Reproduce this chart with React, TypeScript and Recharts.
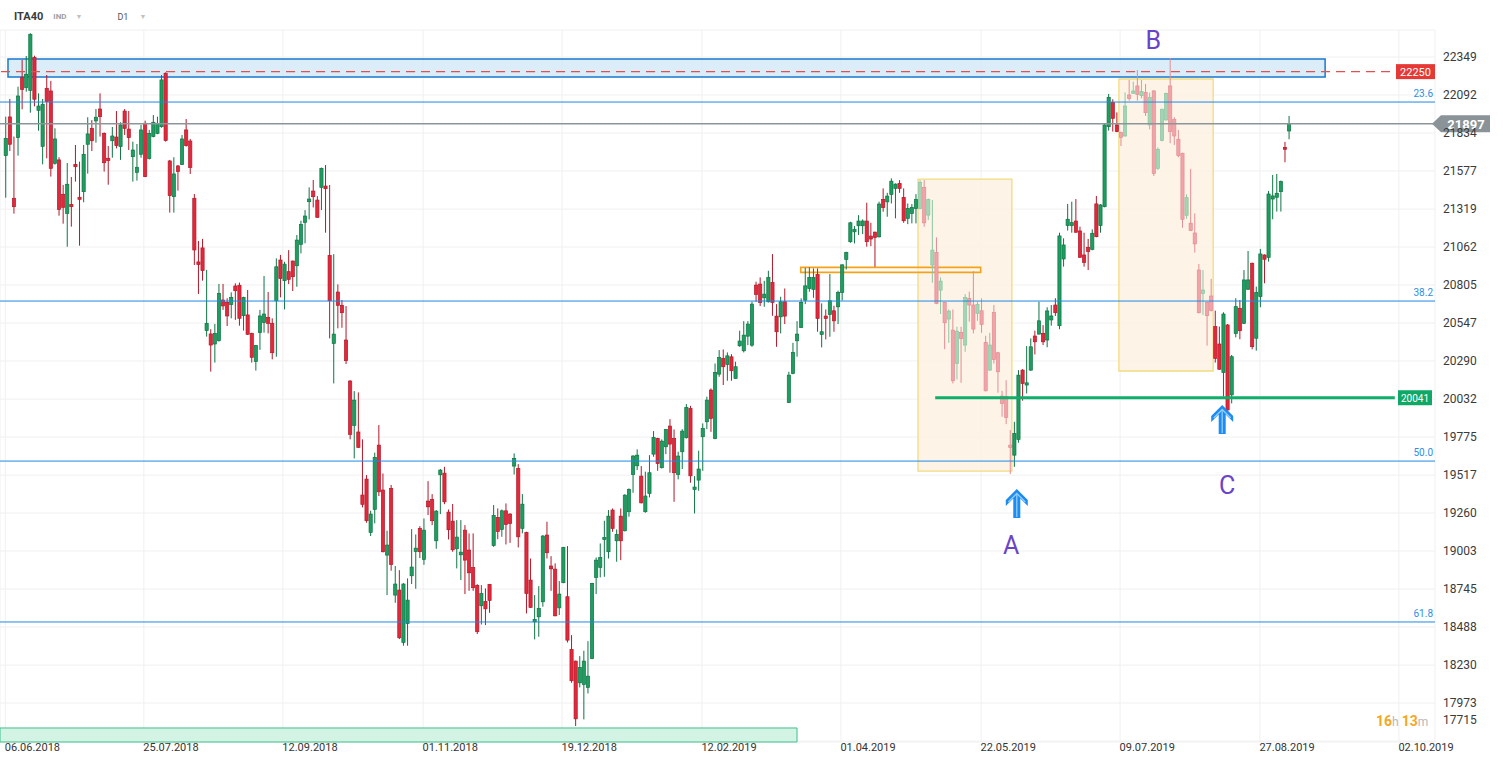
import React from "react";
import {
  ComposedChart,
  Bar,
  XAxis,
  YAxis,
  CartesianGrid,
  ReferenceLine,
  ReferenceArea,
  ReferenceDot,
} from "recharts";

// ITA40 daily candles, 06.06.2018 -> 27.08.2019
const opens = [
  21681, 21943, 21392, 21803, 22209, 22142, 22123, 22347, 21988, 21744,
  22137, 22119, 21629, 21652, 21419, 21290, 21351, 21622, 21399, 21437,
  21758, 21866, 21916, 21997, 21832, 21663, 21782, 21807, 21742, 21983,
  21861, 21674, 21568, 21690, 21900, 21661, 21810, 21832, 21877, 22239,
  21645, 21403, 21611, 21620, 21855, 21780, 21392, 20961, 21056, 20496,
  20473, 20405, 20428, 20703, 20688, 20672, 20798, 20803, 20597, 20602,
  20477, 20286, 20482, 20550, 20585, 20545, 20698, 20974, 20834, 20895,
  20967, 20935, 21080, 21229, 21369, 21441, 21380, 21466, 21475, 21005,
  20409, 20757, 20667, 20432, 20154, 19854, 19809, 19382, 19490, 19129,
  19285, 19720, 19416, 18975, 19427, 18704, 18738, 18383, 18512, 18835,
  19000, 19156, 18946, 19341, 19352, 19072, 19519, 19530, 19266, 19205,
  19018, 18977, 19144, 19009, 18891, 18770, 18632, 18661, 18776, 19040,
  19230, 19149, 19275, 19253, 19578, 19562, 19156, 19129, 18806, 18523,
  18557, 18659, 19111, 18901, 18880, 18618, 18788, 18693, 18336, 18257,
  18110, 18099, 18079, 18275, 18824, 18891, 19081, 18998, 19280, 19072,
  19239, 19140, 19269, 19521, 19580, 19510, 19269, 19393, 19659, 19765,
  19567, 19709, 19849, 19765, 19521, 19675, 19770, 19968, 19420, 19483,
  19777, 19878, 20093, 19765, 20201, 20307, 20266, 20318, 20172, 20393,
  20359, 20458, 20397, 20804, 20811, 20718, 20691, 20822, 20594, 20589,
  20691, 20009, 20206, 20427, 20517, 20702, 20781, 20775, 20876, 20470,
  20594, 20605, 20630, 20657, 20754, 20978, 21098, 21165, 21206, 21206,
  21238, 21136, 21163, 21131, 21384, 21368, 21418, 21459, 21493, 21398,
  21256, 21289, 21323, 21323, 21466, 21278, 20940, 21025, 20770, 20687,
  20574, 20499, 20273, 20483, 20398, 20714, 20669, 20612, 20630, 20416,
  20228, 20619, 20346, 20052, 20048, 19720, 19652, 19759, 20228, 20127,
  20228, 20459, 20472, 20477, 20432, 20568, 20669, 20529, 20981, 21207,
  21207, 21238, 21171, 21008, 21060, 21046, 21354, 21207, 21335, 21877,
  22040, 21889, 21837, 21814, 22092, 22103, 22153, 22087, 22110, 21889,
  22119, 21595, 21783, 21923, 22153, 21927, 21792, 21697, 21277, 21223,
  21157, 20906, 20748, 20687, 20730, 20523, 20405, 20211, 20534, 20060,
  20477, 20647, 20545, 20776, 20952, 20444, 20726, 21008, 20992, 21387,
  21399, 21437, 21737, 21848,
];

const highs = [
  21945, 22065, 21810, 22148, 22329, 22356, 22510, 22358, 22103, 22065,
  22227, 22187, 21866, 21670, 21482, 21631, 21536, 21753, 21640, 21753,
  21941, 21922, 21997, 22103, 21838, 21746, 21875, 21983, 21907, 21997,
  21983, 21776, 21760, 21889, 21918, 21855, 21956, 21945, 22227, 22245,
  21652, 21670, 21618, 21821, 21929, 21794, 21421, 21103, 21117, 20907,
  20505, 20541, 20812, 20812, 20715, 20755, 20816, 20821, 20725, 20771,
  20482, 20398, 20636, 20866, 20757, 20579, 20985, 21008, 20962, 21041,
  20970, 21143, 21240, 21312, 21466, 21516, 21407, 21600, 21617, 21482,
  21014, 20809, 20703, 20662, 20160, 20086, 20077, 19759, 19517, 19276,
  19669, 19856, 19528, 19140, 19450, 18901, 18873, 18785, 18817, 19151,
  19115, 19171, 19223, 19476, 19388, 19280, 19558, 19573, 19284, 19321,
  19212, 19212, 19178, 19122, 19122, 18778, 18772, 18749, 18780, 19314,
  19291, 19284, 19325, 19258, 19664, 19591, 19388, 19133, 18952, 18704,
  18765, 19111, 19201, 18968, 18919, 18799, 19031, 19036, 18433, 18260,
  18291, 18327, 18392, 18787, 18959, 19054, 19208, 19280, 19291, 19149,
  19291, 19388, 19427, 19652, 19691, 19578, 19540, 19652, 19815, 19770,
  19759, 19829, 19896, 19826, 19675, 19828, 19998, 19986, 19510, 19682,
  19867, 20048, 20104, 20273, 20364, 20368, 20348, 20336, 20285, 20495,
  20560, 20560, 20691, 20827, 20856, 20833, 20901, 21014, 20675, 20725,
  20781, 20217, 20413, 20560, 20714, 20921, 20924, 20917, 20917, 20680,
  20639, 20879, 20664, 20766, 20945, 21030, 21233, 21204, 21278, 21249,
  21362, 21226, 21165, 21369, 21459, 21429, 21527, 21493, 21515, 21459,
  21357, 21353, 21420, 21515, 21515, 21390, 21380, 21127, 20856, 20691,
  20639, 20639, 20522, 20522, 20743, 20759, 20899, 20691, 20714, 20461,
  20481, 20669, 20352, 20088, 20160, 19822, 19878, 20228, 20235, 20391,
  20443, 20495, 20691, 20533, 20654, 20669, 20715, 21159, 21121, 21354,
  21369, 21387, 21200, 21159, 21117, 21182, 21408, 21352, 21895, 22099,
  22063, 21974, 21844, 22110, 22194, 22182, 22261, 22194, 22166, 22108,
  22125, 21737, 22000, 22108, 22340, 21941, 21855, 21700, 21419, 21591,
  21290, 20947, 20906, 20692, 20846, 20631, 20523, 20620, 20540, 20331,
  20715, 20703, 20906, 21035, 20956, 20794, 21049, 21012, 21442, 21550,
  21557, 21512, 21774, 21950,
];

const lows = [
  21396, 21712, 21288, 21681, 21995, 22114, 21972, 22015, 21850, 21622,
  21663, 21539, 21620, 21274, 21220, 21064, 21200, 21505, 21071, 21365,
  21559, 21712, 21769, 21810, 21573, 21484, 21667, 21730, 21652, 21821,
  21719, 21505, 21512, 21667, 21535, 21655, 21805, 21826, 21870, 21776,
  21295, 21295, 21444, 21618, 21742, 21557, 20940, 20744, 20834, 20455,
  20218, 20279, 20421, 20636, 20527, 20579, 20568, 20529, 20496, 20466,
  20279, 20225, 20365, 20482, 20477, 20301, 20319, 20721, 20639, 20811,
  20764, 20793, 21019, 21087, 21249, 21330, 21260, 21312, 21159, 20443,
  20138, 20511, 20515, 20269, 19759, 19630, 19700, 19298, 19194, 19104,
  19190, 19375, 18993, 18704, 18869, 18652, 18406, 18361, 18361, 18779,
  18747, 18955, 18909, 19246, 19178, 19018, 19253, 19320, 19081, 18998,
  18885, 18806, 18711, 18733, 18733, 18440, 18505, 18501, 18584, 19031,
  19083, 19099, 19047, 19058, 19521, 19027, 19122, 18580, 18617, 18404,
  18422, 18625, 18952, 18733, 18560, 18569, 18785, 18383, 18110, 17817,
  18079, 17862, 18038, 18270, 18711, 18824, 18828, 18952, 19133, 18930,
  18941, 19135, 19235, 19397, 19551, 19325, 19262, 19366, 19641, 19546,
  19562, 19659, 19533, 19336, 19488, 19558, 19765, 19465, 19257, 19411,
  19546, 19828, 19810, 19760, 20183, 20127, 20156, 20156, 20170, 20386,
  20348, 20397, 20386, 20691, 20662, 20657, 20686, 20596, 20386, 20477,
  20540, 20005, 20200, 20319, 20514, 20675, 20759, 20718, 20488, 20382,
  20436, 20454, 20488, 20540, 20700, 20910, 21090, 21086, 21143, 21149,
  21064, 21068, 20928, 21127, 21301, 21267, 21357, 21256, 21429, 21226,
  21217, 21222, 21222, 21317, 21199, 21244, 20820, 20675, 20608, 20370,
  20413, 20138, 20165, 20142, 20352, 20556, 20477, 20562, 20481, 20084,
  20224, 20273, 20075, 19912, 19862, 19524, 19573, 19736, 20021, 20070,
  20224, 20334, 20470, 20398, 20383, 20529, 20595, 20505, 20929, 21173,
  21159, 21159, 20990, 20929, 20906, 21040, 21128, 21159, 21331, 21850,
  21844, 21840, 21746, 21810, 22054, 22099, 22054, 22069, 21950, 21859,
  21543, 21584, 21778, 21918, 21765, 21753, 21670, 21193, 21254, 21170,
  21024, 20612, 20602, 20394, 20625, 20279, 20230, 20048, 19954, 20003,
  20450, 20437, 20541, 20771, 20369, 20360, 20654, 20816, 20963, 21250,
  21302, 21302, 21636, 21792,
];

const closes = [
  21798, 21758, 21335, 22085, 22130, 22232, 22503, 22063, 22017, 22029,
  22047, 21595, 21794, 21317, 21331, 21487, 21335, 21606, 21385, 21690,
  21828, 21782, 21941, 21945, 21633, 21647, 21814, 21749, 21889, 21866,
  21803, 21719, 21602, 21855, 21539, 21832, 21907, 21900, 22194, 21783,
  21410, 21557, 21573, 21794, 21749, 21600, 21042, 20943, 20902, 20545,
  20398, 20477, 20748, 20663, 20595, 20721, 20766, 20579, 20721, 20471,
  20315, 20394, 20595, 20608, 20545, 20346, 20928, 20849, 20946, 20843,
  20861, 21109, 21215, 21272, 21387, 21403, 21263, 21595, 21457, 20698,
  20472, 20667, 20617, 20292, 19793, 20025, 19705, 19319, 19208, 19253,
  19637, 19404, 18998, 19043, 18912, 18779, 18415, 18779, 18670, 18894,
  19022, 18998, 19144, 19302, 19208, 19273, 19551, 19336, 19147, 19011,
  19097, 18995, 18941, 18855, 18754, 18456, 18715, 18611, 18668, 19244,
  19135, 19275, 19183, 19190, 19630, 19099, 19320, 18715, 18621, 18539,
  18614, 19104, 18991, 18882, 18564, 18711, 19027, 18399, 18124, 17866,
  18214, 18257, 18155, 18783, 18941, 18959, 19095, 19239, 19156, 19115,
  19072, 19381, 19420, 19646, 19652, 19329, 19375, 19533, 19772, 19596,
  19747, 19826, 19727, 19533, 19646, 19815, 19975, 19512, 19436, 19558,
  19833, 20025, 19901, 20212, 20314, 20251, 20325, 20224, 20251, 20425,
  20465, 20540, 20675, 20741, 20686, 20743, 20856, 20686, 20488, 20691,
  20594, 20194, 20348, 20472, 20687, 20799, 20856, 20856, 20578, 20488,
  20578, 20698, 20562, 20754, 20941, 21025, 21226, 21181, 21238, 21238,
  21098, 21116, 21127, 21353, 21330, 21407, 21508, 21488, 21459, 21240,
  21323, 21330, 21384, 21499, 21226, 21384, 21041, 20680, 20831, 20549,
  20628, 20156, 20492, 20443, 20720, 20669, 20506, 20673, 20538, 20088,
  20398, 20300, 20217, 20002, 19908, 19704, 19799, 20194, 20138, 20142,
  20386, 20420, 20562, 20420, 20629, 20595, 20617, 21137, 21076, 21250,
  21227, 21162, 20992, 20958, 21031, 21155, 21132, 21347, 21889, 22076,
  21934, 21844, 21805, 22017, 22069, 22119, 22096, 22115, 21972, 22076,
  21561, 21724, 21995, 22103, 21844, 21814, 21681, 21250, 21397, 21173,
  21083, 20617, 20771, 20597, 20631, 20308, 20234, 20608, 19958, 20319,
  20658, 20495, 20839, 20839, 20387, 20755, 21015, 20979, 21421, 21408,
  21426, 21505, 21724, 21897,
];

const dateTicks = [0, 33.8, 67.7, 101.9, 135.8, 169.9, 203.8, 238.0, 271.9, 306.0, 339.9];
const dateLabels = [
  "06.06.2018", "25.07.2018", "12.09.2018", "01.11.2018", "19.12.2018", "12.02.2019",
  "01.04.2019", "22.05.2019", "09.07.2019", "27.08.2019", "02.10.2019",
];
const priceTicks = [
  22349, 22092, 21834, 21577, 21319, 21062, 20805, 20547, 20290, 20032,
  19775, 19517, 19260, 19003, 18745, 18488, 18230, 17973, 17715,
];

const fibLevels = [22044, 20696, 19612, 18522];
const fibNames = ["23.6", "38.2", "50.0", "61.8"];

const resistance = 22250;
const support = 20041;
const lastPrice = 21897;

// highlighted boxes (index range and price range)
const boxes = [
  { x1: 222.6, x2: 245.5, y1: 19544, y2: 21522 },
  { x1: 271.6, x2: 294.6, y1: 20222, y2: 22200 },
];
const zone = { x1: 0.66, x2: 321.9, y1: 22213, y2: 22335 };
const orangeBox = { x1: 194.0, x2: 237.9, y1: 20890, y2: 20924 };
const supportSpan = [226.8, 338.9];
const tealBox = { x2: 193.1, y2: 17804 };

const letters = [
  { t: "A", x: 245.3, y: 19043 },
  { t: "B", x: 280.0, y: 22464 },
  { t: "C", x: 298.0, y: 19450 },
];
const arrows = [
  { x: 246.7, y: 19423 },
  { x: 296.8, y: 19992 },
];

const XMIN = -1.29;
const XMAX = 348.7;
const YMIN = 17709;
const YMAX = 22532;

const W = 1503;
const H = 766;
const FONT = "Roboto, Arial, sans-serif";

const candles = opens.map((o, i) => ({ i, o, h: highs[i], l: lows[i], c: closes[i] }));

const Candle = (props: any) => {
  const { x, y, width, height, payload } = props;
  if (!payload) return null;
  const { o, h, l, c, i } = payload;
  const top = Math.min(y, y + height);
  const hgt = Math.abs(height);
  const pix = (v: number) => top + ((h - v) / (h - l)) * hgt;
  const up = c >= o;
  const faded = boxes.some((b) => i >= b.x1 && i <= b.x2);
  const fill = up ? (faded ? "#a3d4b5" : "#1d9d60") : faded ? "#f0a4a9" : "#e3283b";
  const stroke = up ? (faded ? "#8cc7a1" : "#0f7444") : faded ? "#e38d93" : "#b0192a";
  const cx = x + width / 2;
  const yo = pix(o);
  const yc = pix(c);
  const bt = Math.min(yo, yc);
  const bh = Math.max(Math.abs(yc - yo), 1.5);
  return (
    <g>
      <line x1={cx} x2={cx} y1={top} y2={top + hgt} stroke={stroke} strokeWidth={1} />
      <rect x={cx - 1.6} y={bt} width={3.2} height={bh} fill={fill} stroke={stroke} strokeWidth={0.7} />
    </g>
  );
};

const XTick = ({ x, payload }: any) => {
  const k = dateTicks.indexOf(payload.value);
  return (
    <text x={x - 0.5} y={751} fontSize={11} fill="#333" fontFamily={FONT} textAnchor="start">
      {dateLabels[k]}
    </text>
  );
};

const YTick = ({ y, payload }: any) => (
  <text x={1443} y={Math.min(y, 720) + 4} fontSize={12} fill="#3a3a3a" fontFamily={FONT}>
    {payload.value}
  </text>
);

const FibLabel = ({ viewBox, text }: any) => (
  <text
    x={viewBox.x + viewBox.width - 2}
    y={viewBox.y - 5}
    textAnchor="end"
    fontSize={10}
    fill="#2b8fe6"
    fontFamily={FONT}
  >
    {text}
  </text>
);

const GrayTag = ({ viewBox }: any) => {
  const r = viewBox.x + viewBox.width;
  const y = viewBox.y;
  return (
    <g>
      <path
        d={`M${r - 3},${y} L${r + 6},${y - 8.5} L${r + 55},${y - 8.5} L${r + 55},${y + 8.5} L${r + 6},${y + 8.5} Z`}
        fill="#8a9397"
      />
      <text x={r + 31} y={y + 5} textAnchor="middle" fill="#fff" fontSize={13} fontWeight={700} fontFamily={FONT}>
        {lastPrice}
      </text>
    </g>
  );
};

const BoxTag = ({ viewBox, text, color, left, right, size }: any) => {
  const r = viewBox.x + viewBox.width;
  const y = viewBox.y;
  return (
    <g>
      <rect x={r - left} y={y - 7.5} width={left - right} height={15} fill={color} />
      <text
        x={r - (left + right) / 2}
        y={y + 4}
        textAnchor="middle"
        fill="#fff"
        fontSize={size}
        fontFamily={FONT}
      >
        {text}
      </text>
    </g>
  );
};

const Arrow = ({ cx, cy }: any) => {
  if (cx == null || cy == null) return null;
  const p = (dx: number, dy: number) => `${cx + dx},${cy + dy}`;
  return (
    <g>
      <path
        d={`M${p(0, 0)} L${p(11, 11)} L${p(11, 17)} L${p(3.5, 9.5)} L${p(3.5, 29)} L${p(-3.5, 29)} L${p(-3.5, 9.5)} L${p(-11, 17)} L${p(-11, 11)} Z`}
        fill="#1b8cf2"
      />
      <path d={`M${p(-8.5, 13)} L${p(0, 4.5)} L${p(8.5, 13)}`} fill="none" stroke="#8fcdff" strokeWidth={1.3} />
      <line x1={cx} x2={cx} y1={cy + 5} y2={cy + 28} stroke="#8fcdff" strokeWidth={1.3} />
    </g>
  );
};

const Letter = (t: string) => ({ cx, cy }: any) =>
  cx == null ? null : (
    <text
      x={cx}
      y={cy + 9}
      textAnchor="middle"
      fontSize={25}
      fill="#6a44c8"
      fontFamily={FONT}
    >
      {t}
    </text>
  );

export default function App() {
  return (
    <div style={{ position: "absolute", left: 0, top: 0, width: W, height: H, background: "#fff" }}>
      <ComposedChart
        width={W}
        height={H}
        data={candles}
        margin={{ top: 30, right: 0, bottom: 0, left: 0 }}
      >
        <CartesianGrid stroke="#f0f0f0" strokeWidth={1} />
        <XAxis
          dataKey="i"
          type="number"
          domain={[XMIN, XMAX]}
          allowDataOverflow
          ticks={dateTicks}
          interval={0}
          axisLine={false}
          tickLine={false}
          height={24}
          tick={<XTick />}
        />
        <YAxis
          orientation="right"
          type="number"
          domain={[YMIN, YMAX]}
          allowDataOverflow
          ticks={priceTicks}
          interval={0}
          axisLine={false}
          tickLine={false}
          width={W - 1435}
          tick={<YTick />}
        />

        {boxes.map((b, k) => (
          <ReferenceArea
            key={"box" + k}
            x1={b.x1}
            x2={b.x2}
            y1={b.y1}
            y2={b.y2}
            fill="#fdf2e3"
            fillOpacity={0.85}
            stroke="#f1db80"
            strokeWidth={1.3}
          />
        ))}

        <ReferenceArea
          x1={XMIN}
          x2={tealBox.x2}
          y1={YMIN}
          y2={tealBox.y2}
          fill="#d3f3e5"
          fillOpacity={1}
          stroke="#3fbf8c"
          strokeWidth={1}
          ifOverflow="visible"
        />

        <Bar
          dataKey={(d: any) => [d.l, d.h]}
          barSize={3}
          shape={<Candle />}
          isAnimationActive={false}
        />

        {fibLevels.map((v, k) => (
          <ReferenceLine
            key={"fib" + k}
            y={v}
            stroke="#1e88e5"
            strokeWidth={1}
            label={<FibLabel text={fibNames[k]} />}
          />
        ))}

        <ReferenceArea
          x1={zone.x1}
          x2={zone.x2}
          y1={zone.y1}
          y2={zone.y2}
          fill="#cfe7f7"
          fillOpacity={0.75}
          stroke="#1878d0"
          strokeWidth={1.5}
        />
        <ReferenceLine
          y={resistance}
          stroke="#e05252"
          strokeWidth={1.2}
          strokeDasharray="9 6"
          label={<BoxTag text={String(resistance)} color="#e53935" left={39} right={0} size={11} />}
        />

        <ReferenceArea
          x1={orangeBox.x1}
          x2={orangeBox.x2}
          y1={orangeBox.y1}
          y2={orangeBox.y2}
          fill="#fffaf2"
          fillOpacity={0.55}
          stroke="#f5a21b"
          strokeWidth={1.6}
        />

        <ReferenceLine y={lastPrice} stroke="#8c9599" strokeWidth={1.5} label={<GrayTag />} />

        <ReferenceLine
          segment={[
            { x: supportSpan[0], y: support },
            { x: supportSpan[1], y: support },
          ]}
          stroke="#0fae6a"
          strokeWidth={3}
        />
        <ReferenceLine
          y={support}
          stroke="none"
          label={<BoxTag text={String(support)} color="#10a866" left={37} right={3} size={10} />}
        />

        {arrows.map((a, k) => (
          <ReferenceDot key={"ar" + k} x={a.x} y={a.y} r={0} shape={<Arrow />} />
        ))}
        {letters.map((l, k) => (
          <ReferenceDot key={"lt" + k} x={l.x} y={l.y} r={0} shape={Letter(l.t)} />
        ))}
      </ComposedChart>

      <div
        style={{
          position: "absolute",
          left: 14,
          top: 10,
          fontFamily: FONT,
          display: "flex",
          alignItems: "center",
          whiteSpace: "nowrap",
        }}
      >
        <span style={{ fontSize: 11, fontWeight: 700, color: "#3a3a3a" }}>ITA40</span>
        <span style={{ fontSize: 8, fontWeight: 700, color: "#a0a0a0", marginLeft: 10 }}>IND</span>
        <span style={{ fontSize: 7, color: "#c0c0c0", marginLeft: 9 }}>▼</span>
        <span style={{ fontSize: 9, color: "#555", marginLeft: 35 }}>D1</span>
        <span style={{ fontSize: 7, color: "#c0c0c0", marginLeft: 11 }}>▼</span>
      </div>

      <div
        style={{
          position: "absolute",
          left: 1376,
          top: 711,
          fontFamily: FONT,
          whiteSpace: "nowrap",
        }}
      >
        <span style={{ fontSize: 14, fontWeight: 700, color: "#f5a623" }}>16</span>
        <span style={{ fontSize: 12, color: "#b8b8b8" }}>h </span>
        <span style={{ fontSize: 14, fontWeight: 700, color: "#f5a623" }}>13</span>
        <span style={{ fontSize: 12, color: "#b8b8b8" }}>m</span>
      </div>
    </div>
  );
}
